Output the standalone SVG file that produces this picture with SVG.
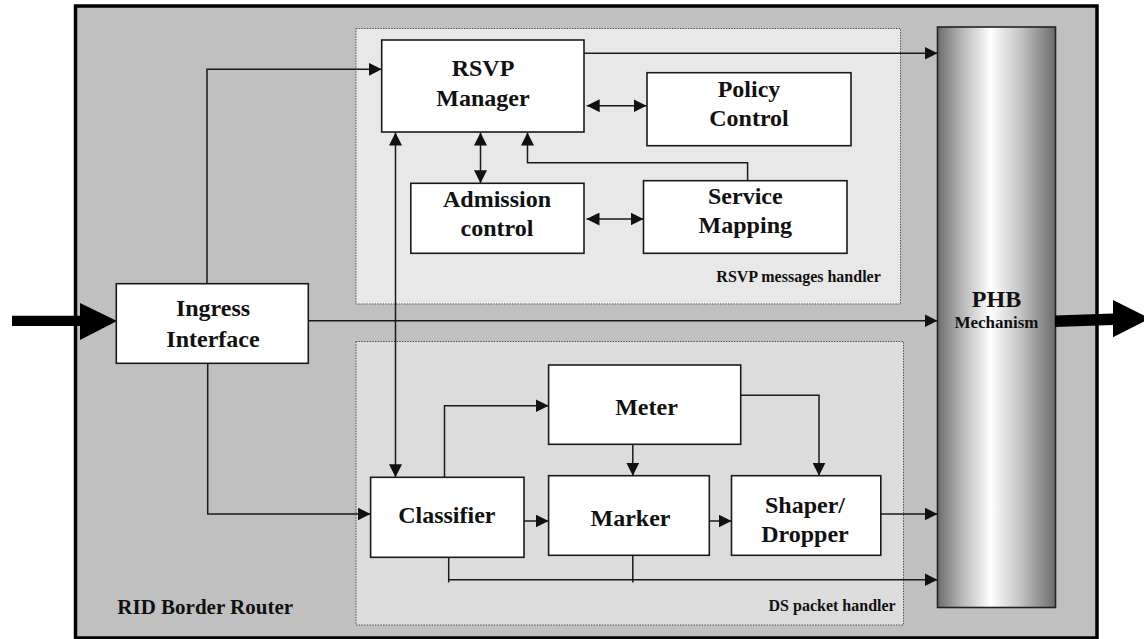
<svg xmlns="http://www.w3.org/2000/svg" width="1144" height="639" viewBox="0 0 1144 639">
  <defs>
    <marker id="ah" markerUnits="userSpaceOnUse" markerWidth="13" markerHeight="13" refX="13" refY="6.5" orient="auto-start-reverse">
      <path d="M0,0 L13,6.5 L0,13 z" fill="#111"/>
    </marker>
    <linearGradient id="phbGrad" x1="0" y1="0" x2="1" y2="0">
      <stop offset="0" stop-color="#6c6c6c"/>
      <stop offset="0.2" stop-color="#b4b4b4"/>
      <stop offset="0.45" stop-color="#ffffff"/>
      <stop offset="0.7" stop-color="#c4c4c4"/>
      <stop offset="1" stop-color="#6c6c6c"/>
    </linearGradient>
    <style>
      .box { fill: #ffffff; stroke: #1a1a1a; stroke-width: 1.6; }
      .lbl { font-family: "Liberation Serif", "Times New Roman", serif; font-weight: bold; font-size: 24px; fill: #111; text-anchor: middle; }
      .small { font-family: "Liberation Serif", "Times New Roman", serif; font-weight: bold; font-size: 16px; fill: #111; }
      .conn { fill: none; stroke: #1a1a1a; stroke-width: 1.5; }
      .region { stroke: #555; stroke-width: 1; stroke-dasharray: 1.5 1.2; }
    </style>
  </defs>

  <!-- router frame -->
  <g id="router">
    <rect x="75.5" y="6" width="1021.5" height="632" fill="#c0c0c0" stroke="#000" stroke-width="3.5"/>
    <text class="small" x="117.3" y="614" style="font-size:21px">RID Border Router</text>
  </g>

  <!-- RSVP messages handler area -->
  <g id="rsvp-handler">
    <rect class="region" x="356" y="28.5" width="544.5" height="275.5" fill="#e8e8e8"/>
    <text class="small" x="880.8" y="282" text-anchor="end">RSVP messages handler</text>
  </g>

  <!-- DS packet handler area -->
  <g id="ds-handler">
    <rect class="region" x="356" y="341.5" width="547.5" height="283.5" fill="#dcdcdc"/>
    <text class="small" x="895.7" y="610.7" text-anchor="end">DS packet handler</text>
  </g>

  <!-- PHB column -->
  <g id="phb">
    <rect x="937.5" y="27" width="118" height="580.5" fill="url(#phbGrad)" stroke="#222" stroke-width="1.6"/>
    <text class="lbl" x="996.5" y="306.7">PHB</text>
    <text class="lbl" x="996.5" y="328.3" style="font-size:17px">Mechanism</text>
  </g>

  <!-- connectors -->
  <g id="connectors">
    <!-- Ingress to RSVP Manager -->
    <polyline class="conn" points="207,283.7 207,69.3 381.7,69.3" marker-end="url(#ah)"/>
    <!-- Ingress to PHB -->
    <line class="conn" x1="308.3" y1="320.7" x2="937.5" y2="320.7" marker-end="url(#ah)"/>
    <!-- Ingress to Classifier -->
    <polyline class="conn" points="207.7,363.3 207.7,514 370.6,514" marker-end="url(#ah)"/>
    <!-- RSVP Manager to PHB -->
    <line class="conn" x1="584" y1="53.3" x2="937.5" y2="53.3" marker-end="url(#ah)"/>
    <!-- RSVP Manager <-> Policy Control -->
    <line class="conn" x1="586.7" y1="105.7" x2="646.5" y2="105.7" marker-start="url(#ah)" marker-end="url(#ah)"/>
    <!-- RSVP Manager <-> Admission control -->
    <line class="conn" x1="480.5" y1="132.5" x2="480.5" y2="183.3" marker-start="url(#ah)" marker-end="url(#ah)"/>
    <!-- Admission control <-> Service Mapping -->
    <line class="conn" x1="586.5" y1="219" x2="643.5" y2="219" marker-start="url(#ah)" marker-end="url(#ah)"/>
    <!-- Service Mapping to RSVP Manager -->
    <polyline class="conn" points="747.6,180.7 747.6,162.7 527.5,162.7 527.5,132.5" marker-end="url(#ah)"/>
    <!-- RSVP Manager <-> Classifier -->
    <line class="conn" x1="395.5" y1="132.5" x2="395.5" y2="477.3" marker-start="url(#ah)" marker-end="url(#ah)"/>
    <!-- Classifier to Meter -->
    <polyline class="conn" points="444.5,477.3 444.5,405.7 548.6,405.7" marker-end="url(#ah)"/>
    <!-- Meter to Marker -->
    <line class="conn" x1="632.8" y1="444.3" x2="632.8" y2="475.7" marker-end="url(#ah)"/>
    <!-- Meter to Shaper/Dropper -->
    <polyline class="conn" points="740.7,395.3 819,395.3 819,475.7" marker-end="url(#ah)"/>
    <!-- Classifier to Marker -->
    <line class="conn" x1="524" y1="521" x2="548.6" y2="521" marker-end="url(#ah)"/>
    <!-- Marker to Shaper/Dropper -->
    <line class="conn" x1="709.3" y1="521" x2="731.5" y2="521" marker-end="url(#ah)"/>
    <!-- Shaper/Dropper to PHB -->
    <line class="conn" x1="880.8" y1="514" x2="937.5" y2="514" marker-end="url(#ah)"/>
    <!-- Classifier / Marker bypass to PHB -->
    <line class="conn" x1="448.7" y1="557.3" x2="448.7" y2="582.5"/>
    <line class="conn" x1="632.8" y1="555.3" x2="632.8" y2="582.5"/>
    <line class="conn" x1="448.7" y1="579.7" x2="937.5" y2="579.7" marker-end="url(#ah)"/>
    <!-- traffic in / out -->
    <polygon points="12,315.7 80,315.7 80,303 117,321 80,340 80,326 12,326" fill="#000"/>
    <polygon points="1055,315.5 1113,313.5 1113,300 1150,318.5 1113,337.3 1113,325 1055,327" fill="#000"/>
  </g>

  <g id="ingress">
    <rect class="box" x="116.3" y="283.7" width="192" height="79.6"/>
    <text class="lbl" x="213" y="315.7">Ingress</text>
    <text class="lbl" x="213" y="346.7">Interface</text>
  </g>

  <g id="rsvp-manager">
    <rect class="box" x="381.7" y="40" width="202.3" height="92"/>
    <text class="lbl" x="483" y="76">RSVP</text>
    <text class="lbl" x="483" y="105.7">Manager</text>
  </g>

  <g id="policy-control">
    <rect class="box" x="647" y="72.7" width="204" height="73"/>
    <text class="lbl" x="749" y="96.7">Policy</text>
    <text class="lbl" x="749" y="125.7">Control</text>
  </g>

  <g id="admission-control">
    <rect class="box" x="410.8" y="183.3" width="173.2" height="70"/>
    <text class="lbl" x="497" y="206.7">Admission</text>
    <text class="lbl" x="497" y="236">control</text>
  </g>

  <g id="service-mapping">
    <rect class="box" x="643.5" y="180.7" width="203.5" height="72.6"/>
    <text class="lbl" x="745.3" y="204">Service</text>
    <text class="lbl" x="745.3" y="233.3">Mapping</text>
  </g>

  <g id="meter">
    <rect class="box" x="548.6" y="365" width="192.1" height="79.3"/>
    <text class="lbl" x="646.5" y="415">Meter</text>
  </g>

  <g id="classifier">
    <rect class="box" x="370.6" y="477.3" width="153.4" height="80"/>
    <text class="lbl" x="446.8" y="523.3">Classifier</text>
  </g>

  <g id="marker">
    <rect class="box" x="548.6" y="475.7" width="160.7" height="79.6"/>
    <text class="lbl" x="630.5" y="526">Marker</text>
  </g>

  <g id="shaper-dropper">
    <rect class="box" x="731.5" y="475.7" width="149.3" height="79.6"/>
    <text class="lbl" x="805" y="513.3">Shaper/</text>
    <text class="lbl" x="805" y="542.3">Dropper</text>
  </g>
</svg>
